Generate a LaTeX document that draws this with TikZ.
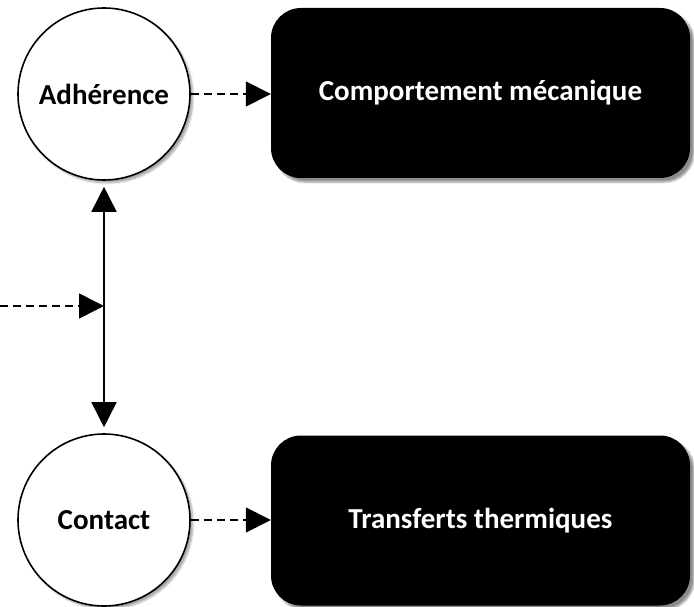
\documentclass[tikz,border=0pt]{standalone}
\usepackage{fontspec}
\setmainfont{Carlito}
\usetikzlibrary{arrows.meta,shadows.blur}
\begin{document}
\begin{tikzpicture}[x=1pt,y=-1pt,
  circ/.style={circle,draw=black,line width=1.6pt,fill=white,minimum size=172pt,inner sep=0pt,
    font=\bfseries\fontsize{29}{34}\selectfont,
    blur shadow={shadow xshift=3pt,shadow yshift=-3pt,shadow blur steps=6,shadow opacity=35}},
  blackbox/.style={rectangle,rounded corners=30pt,fill=black,text=white,minimum width=419pt,minimum height=170pt,inner sep=0pt,
    font=\bfseries\fontsize{29}{34}\selectfont,
    blur shadow={shadow xshift=4pt,shadow yshift=-4pt,shadow blur steps=6,shadow opacity=45}},
  dasharrow/.style={line width=1.6pt,dash pattern=on 8pt off 5pt,-{Triangle[length=25pt,width=25pt]}},
  solidarrow/.style={line width=1.6pt,{Triangle[length=25pt,width=25pt]}-{Triangle[length=25pt,width=25pt]}}]
\useasboundingbox (0,0) rectangle (694,607);
\node[circ] (a) at (104,94) {Adhérence};
\node[circ] (c) at (104,520) {Contact};
\node[blackbox] (m) at (480.5,93) {Comportement mécanique};
\node[blackbox] (t) at (480.5,520.5) {Transferts thermiques};
\draw[dasharrow] (a.east) -- (m.west |- a.east);
\draw[dasharrow] (c.east) -- (t.west |- c.east);
\draw[solidarrow,shorten <=6pt,shorten >=6pt] (a.south) -- (c.north);
\coordinate (in) at (0,306);
\coordinate (j) at (104,306);
\draw[dasharrow] (in) -- (j);
\end{tikzpicture}
\end{document}
